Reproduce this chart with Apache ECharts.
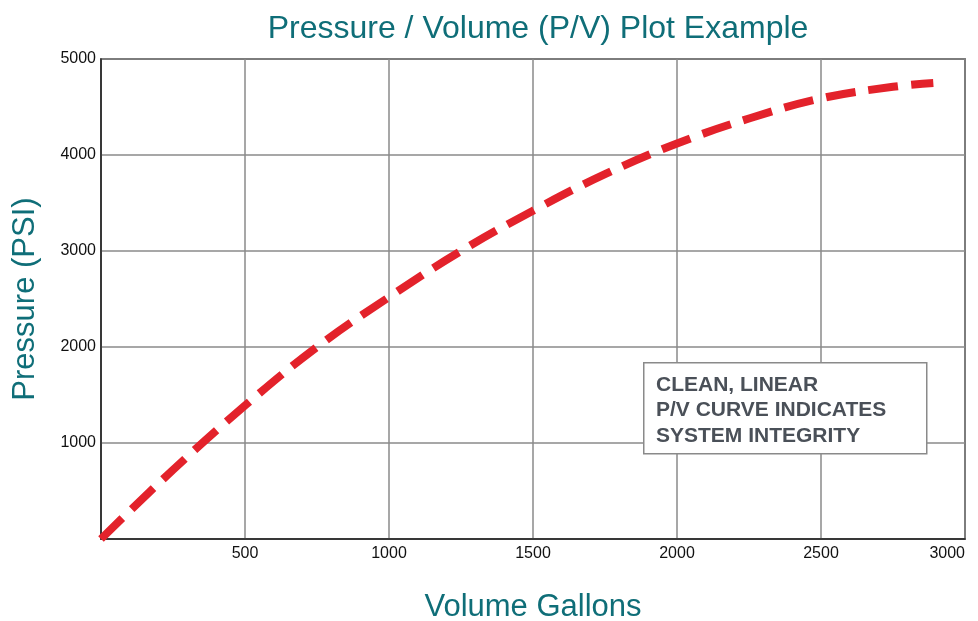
<!DOCTYPE html>
<html>
<head>
<meta charset="utf-8">
<script src="https://cdn.jsdelivr.net/npm/echarts@6/dist/echarts.min.js"></script>
<style>html,body{margin:0;padding:0;background:#fff}#c{width:978px;height:621px}</style>
</head>
<body>
<div id="c"></div>
<script>
const volumes = [0, 250, 500, 750, 1000, 1250, 1500, 1750, 2000, 2250, 2500, 2750, 2890];
const pressures = [0, 720, 1390, 2000, 2520, 3000, 3420, 3800, 4120, 4380, 4590, 4710, 4750];
const xTicks = [500, 1000, 1500, 2000, 2500, 3000];
const yTicks = [1000, 2000, 3000, 4000, 5000];
const noteLines = ['CLEAN, LINEAR', 'P/V CURVE INDICATES', 'SYSTEM INTEGRITY'];

const chart = echarts.init(document.getElementById('c'), null, {renderer: 'canvas'});
const teal = '#0f6e78';
const baseFont = 'Liberation Sans';
chart.setOption({
  animation: false,
  title: {
    text: 'Pressure / Volume (P/V) Plot Example',
    left: 533, top: 8, textAlign: 'center',
    textStyle: {fontFamily: baseFont, fontSize: 32, fontWeight: 'normal', color: teal}
  },
  grid: {left: 101, right: 13, top: 59, bottom: 82, show: true, borderColor: '#222', borderWidth: 1.5,
    containLabel: false, outerBoundsMode: 'none'},
  xAxis: {
    type: 'value', min: 0, max: 3000, interval: 500,
    name: 'Volume Gallons', nameLocation: 'middle', nameGap: 53,
    nameTextStyle: {fontFamily: baseFont, fontSize: 31, color: teal},
    axisLine: {show: true, lineStyle: {color: '#222', width: 1.5}},
    axisTick: {show: false},
    axisLabel: {fontFamily: baseFont, fontSize: 16, color: '#111', margin: 7, alignMaxLabel: 'right',
      formatter: v => xTicks.includes(v) ? String(v) : ''},
    splitLine: {show: true, lineStyle: {color: '#8a8a8a', width: 1.5}}
  },
  yAxis: {
    type: 'value', min: 0, max: 5000, interval: 1000,
    name: 'Pressure (PSI)', nameLocation: 'middle', nameGap: 60, nameRotate: 90,
    nameTextStyle: {fontFamily: baseFont, fontSize: 31, color: teal},
    axisLine: {show: true, lineStyle: {color: '#222', width: 1.5}},
    axisTick: {show: false},
    axisLabel: {fontFamily: baseFont, fontSize: 16, color: '#111', margin: 5,
      formatter: v => yTicks.includes(v) ? String(v) : ''},
    splitLine: {show: true, lineStyle: {color: '#8a8a8a', width: 1.5}}
  },
  series: [{
    type: 'line',
    data: volumes.map((v, i) => [v, pressures[i]]),
    smooth: 0.4,
    symbol: 'none',
    lineStyle: {color: '#e3222b', width: 8, type: [30, 13], cap: 'butt'},
    z: 5
  }],
  graphic: [
    {type: 'rect', left: 643, top: 362, z: 100,
     shape: {x: 0, y: 0, width: 283, height: 91},
     style: {fill: '#ffffff', stroke: '#8a8a8a', lineWidth: 1.5}},
    {type: 'text', left: 656, top: 372, z: 101,
     style: {text: noteLines.join('\n'), fill: '#4a5058', fontFamily: baseFont, fontWeight: 'bold', fontSize: 21, lineHeight: 25.5}}
  ]
});
</script>
</body>
</html>
